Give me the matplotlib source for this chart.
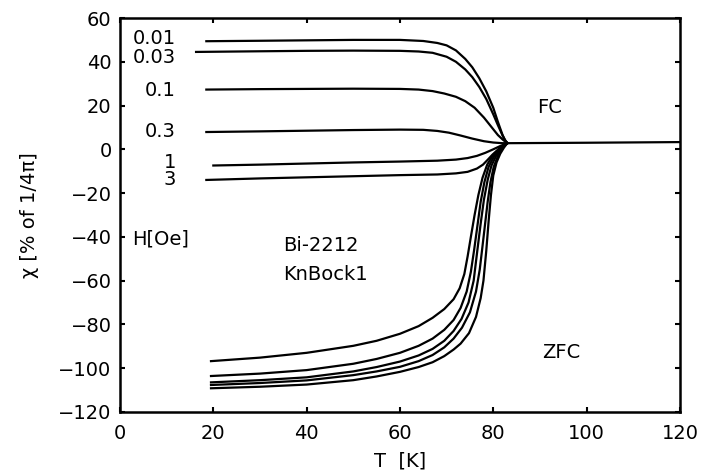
import matplotlib
matplotlib.use("Agg")
import matplotlib.pyplot as plt

# field-cooled curves, H in Oe -> (T [K], chi [% of 1/4pi])
fc_fields = ["0.01", "0.03", "0.1", "0.3", "1", "3"]
fc_T = {
    "0.01": [18.5, 30, 40, 50, 60, 65, 68, 70, 72, 74, 75.5, 77, 78.5, 80, 81, 82, 82.5, 83],
    "0.03": [16.3, 30, 40, 50, 60, 64, 67, 70, 72, 74, 75.5, 77, 78.5, 80, 81, 82, 82.5, 83],
    "0.1": [18.5, 30, 40, 50, 60, 64, 67, 69.5, 72, 74, 76, 78, 79.5, 81, 82, 83],
    "0.3": [18.5, 30, 40, 50, 60, 65, 68, 70.5, 73, 75.5, 78, 80, 82, 83],
    "1": [20, 30, 40, 50, 60, 68, 72, 74.5, 76.5, 78.3, 80, 81.5, 83],
    "3": [18.5, 30, 40, 50, 60, 68, 72, 74.5, 76.5, 77.8, 78.8, 79.8, 81, 82, 83],
}
fc_chi = {
    "0.01": [49.4, 49.6, 49.8, 50, 50, 49.5, 48.6, 47.5, 45.2, 41.3, 37.5, 32.5, 26.5, 19, 12.5, 6.5, 4.3, 2.8],
    "0.03": [44.5, 44.8, 45, 45.1, 45, 44.7, 44.1, 42.3, 40, 36.5, 33, 28.5, 23, 16, 11, 6.3, 4.3, 2.8],
    "0.1": [27.3, 27.5, 27.6, 27.7, 27.6, 27.3, 26.6, 25.5, 24, 22, 19, 14.5, 10.5, 6.5, 4.5, 2.8],
    "0.3": [7.9, 8.2, 8.5, 8.8, 9.0, 8.9, 8.4, 7.6, 6.3, 4.9, 3.7, 3.1, 2.8, 2.8],
    "1": [-7.4, -7, -6.5, -6, -5.6, -5.2, -4.7, -4, -3, -1.6, 0, 1.5, 2.8],
    "3": [-14, -13.3, -12.8, -12.3, -11.8, -11.5, -11, -10.3, -8.8, -7, -4.8, -2.5, -0.2, 1.5, 2.8],
}
fc_label_y = [50.5, 42, 27, 8, -6, -14]

# zero-field-cooled curves
zfc_T = [
    [19.5, 30, 40, 50, 55, 60, 64, 67, 69.5, 71.5, 72.8, 73.8, 74.5, 75.2, 76, 76.8, 77.7, 78.7, 80, 81.5, 83],
    [19.5, 30, 40, 50, 55, 60, 64, 67, 69.5, 71.5, 73, 74.3, 75.2, 75.9, 76.6, 77.3, 78.1, 79, 80.2, 81.6, 83],
    [19.5, 30, 40, 50, 55, 60, 64, 67, 69.5, 71.5, 73.2, 74.7, 75.8, 76.6, 77.3, 78, 78.8, 79.6, 80.6, 81.8, 83],
    [19.5, 30, 40, 50, 55, 60, 64, 67, 69.5, 71.5, 73.3, 75, 76.3, 77.1, 77.6, 78.2, 78.8, 79.4, 80.1, 81, 82, 83],
    [19.5, 30, 40, 50, 55, 60, 64, 67, 69.5, 71.5, 73, 74.8, 76.3, 77.3, 77.9, 78.5, 79, 79.5, 80, 80.7, 81.5, 82.3, 83],
]
zfc_chi = [
    [-96.8, -95.2, -93, -89.8, -87.5, -84.3, -80.8, -77, -73, -68.5, -63.5, -57, -49, -40, -30, -21, -13, -7, -2.5, 0.8, 2.8],
    [-103.6, -102.5, -100.9, -98, -95.8, -93, -89.8, -86.5, -82.5, -78, -72.5, -65, -56, -46, -35, -24, -15, -8, -3, 0.8, 2.8],
    [-106.5, -105.5, -104.2, -101.5, -99.5, -97, -94.2, -91.2, -87.5, -83, -77.5, -70, -60, -46, -34, -23, -14, -7.5, -3, 0.8, 2.8],
    [-107.7, -106.8, -105.6, -103.2, -101.5, -99.4, -96.8, -94, -90.5, -86.5, -81.5, -74.5, -65, -55, -46, -35, -24, -15, -8, -3, 0.8, 2.8],
    [-109.2, -108.5, -107.5, -105.5, -103.8, -101.7, -99.5, -97.3, -94.5, -91.5, -88.8, -84, -76.6, -68, -60, -46.4, -33, -21, -12, -6, -2, 0.8, 2.8],
]

# normal state above Tc
normal_T = [83, 100, 120]
normal_chi = [2.8, 3.0, 3.3]

fig = plt.figure(figsize=(7.06, 4.74), dpi=100)
ax = fig.add_axes([0.170, 0.131, 0.793, 0.831])

lw = 1.6
for h in fc_fields:
    ax.plot(fc_T[h], fc_chi[h], color="black", lw=lw)
for t, c in zip(zfc_T, zfc_chi):
    ax.plot(t, c, color="black", lw=lw)
ax.plot(normal_T, normal_chi, color="black", lw=lw)

fs = 14
for h, y in zip(fc_fields, fc_label_y):
    ax.text(12, y, h, ha="right", va="center", fontsize=fs)
ax.text(2.5, -41, "H[Oe]", fontsize=fs, va="center")
ax.text(35, -44, "Bi-2212", fontsize=fs, va="center")
ax.text(35, -57, "KnBock1", fontsize=fs, va="center")
ax.text(89.5, 19, "FC", fontsize=fs, va="center")
ax.text(90.5, -93, "ZFC", fontsize=fs, va="center")

ax.set_xlim(0, 120)
ax.set_ylim(-120, 60)
ax.set_xticks(range(0, 121, 20))
ax.set_yticks(range(-120, 61, 20))
ax.tick_params(axis="both", labelsize=fs, width=1.5, length=3.5, top=True, right=True,
               direction="in")
ax.tick_params(axis="x", pad=9)
ax.tick_params(axis="y", pad=6)
for s in ax.spines.values():
    s.set_linewidth(1.8)

ax.set_xlabel("T  [K]", fontsize=fs, labelpad=6)
ax.set_ylabel("χ [% of 1/4π]", fontsize=fs, labelpad=14)

fig.savefig("out.png", dpi=100)
